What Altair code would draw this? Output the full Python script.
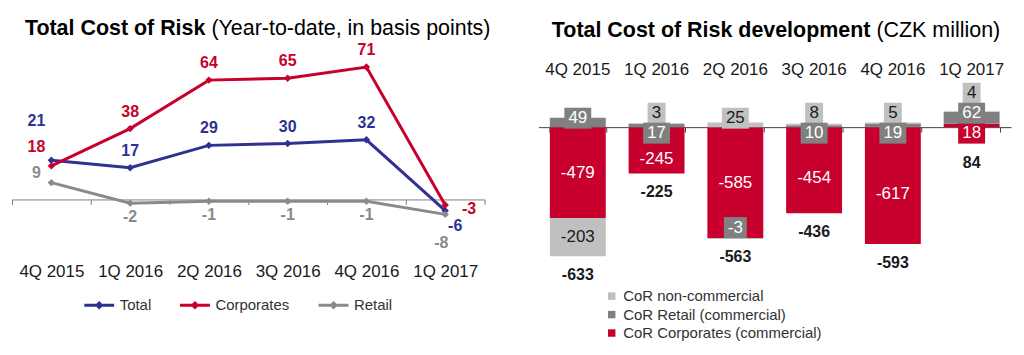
import altair as alt
import pandas as pd

# ---------------- data ----------------
categories = ["4Q 2015", "1Q 2016", "2Q 2016", "3Q 2016", "4Q 2016", "1Q 2017"]

# Left panel: Total Cost of Risk, year-to-date, basis points
series_names = ["Total", "Corporates", "Retail"]
total_bp = [21, 17, 29, 30, 32, -6]
corporates_bp = [18, 38, 64, 65, 71, -3]
retail_bp = [9, -2, -1, -1, -1, -8]

# Right panel: Total Cost of Risk development, CZK million
segment_names = ["CoR Corporates (commercial)", "CoR Retail (commercial)", "CoR non-commercial"]
cor_corporates = [-479, -245, -585, -454, -617, 18]
cor_retail = [49, 17, -3, 10, 19, 62]
cor_noncomm = [-203, 3, 25, 8, 5, 4]
cor_total = [-633, -225, -563, -436, -593, 84]

left_title = ["Total Cost of Risk", "(Year-to-date, in basis points)"]
right_title = ["Total Cost of Risk development", "(CZK million)"]

# ---------------- style / layout ----------------
W, H = 474, 332
GAP = 54
ZL, KL = 186.5, 1.87     # left: zero line (px from top), px per bp
ZR, KR = 114.0, 0.19     # right: zero line (px from top), px per CZK m

BLUE, RED, GRAY = "#2E3192", "#C8002D", "#8A8A8A"
LIGHT, DARK = "#C0C0C0", "#808080"
INK = "#1A1A1A"
AXIS_COL = "#808080"
FONT = "Liberation Sans"
TITLE_SIZE = 21.5


def lv(px):
    return px / KL


def rv(px):
    return px / KR


# ---------------- left panel ----------------
series_vals = {"Total": total_bp, "Corporates": corporates_bp, "Retail": retail_bp}
series_col = {"Total": BLUE, "Corporates": RED, "Retail": GRAY}

left_df = pd.DataFrame([
    {"cat": c, "series": s, "value": v, "col": series_col[s]}
    for s in series_names for c, v in zip(categories, series_vals[s])
])

lab_rows = []
n = len(categories)
for i, c in enumerate(categories):
    vals = [(s, series_vals[s][i]) for s in series_names]
    if i == 0:
        prev = None
        for s, v in sorted(vals, key=lambda t: t[1]):
            y = v + lv(10)
            if prev is not None:
                y = max(y, prev + lv(26))
            prev = y
            lab_rows.append(dict(cat=c, text=str(v), ly=y, dx=-15, col=series_col[s]))
    elif i == n - 1:
        prev = None
        for rank, (s, v) in enumerate(sorted(vals, key=lambda t: -t[1])):
            y = v - lv(4)
            if prev is not None:
                y = min(y, prev - lv(17))
            prev = y
            lab_rows.append(dict(cat=c, text=str(v), ly=y, dx=24 - 14 * rank, col=series_col[s]))
    else:
        for s, v in vals:
            y = v + lv(17) if v >= 0 else v - lv(14)
            lab_rows.append(dict(cat=c, text=str(v), ly=y, dx=0, col=series_col[s]))
lab_df = pd.DataFrame(lab_rows)

yL_scale = alt.Scale(domain=[-(H - ZL) / KL, ZL / KL], nice=False, zero=False)
xL = alt.X(
    "cat:N", sort=categories, title=None,
    scale=alt.Scale(type="band", paddingInner=0, paddingOuter=0),
    axis=alt.Axis(orient="bottom", offset=-(H - ZL), domainColor=AXIS_COL, tickColor=AXIS_COL,
                  tickBand="extent", tickSize=5, labelAngle=0, labelFontSize=17, labelColor=INK,
                  labelBaseline="alphabetic", labelPadding=72, grid=False),
)

left_legend = alt.Legend(
    orient="none", legendX=71, legendY=276, direction="horizontal", title=None,
    symbolType="M-1,0L1,0M0,-0.15L0.15,0L0,0.15L-0.15,0Z", symbolSize=900, symbolStrokeWidth=3,
    labelFontSize=15, labelColor="#333333", labelOffset=4, columnPadding=22, padding=0,
    labelLimit=300,
)

lines = alt.Chart(left_df).mark_line(strokeWidth=3).encode(
    x=xL,
    y=alt.Y("value:Q", scale=yL_scale, axis=None),
    color=alt.Color("series:N", scale=alt.Scale(domain=series_names, range=[BLUE, RED, GRAY]),
                    legend=left_legend),
)
points = alt.Chart(left_df).mark_point(filled=True, shape="diamond", size=55, opacity=1).encode(
    x=xL,
    y=alt.Y("value:Q", scale=yL_scale, axis=None),
    fill=alt.Fill("col:N", scale=None),
)
left_layers = [lines, points]
for d in sorted(lab_df["dx"].unique()):
    left_layers.append(
        alt.Chart(lab_df[lab_df["dx"] == d]).mark_text(
            dx=float(d), fontSize=16, fontWeight="bold", baseline="middle", align="center"
        ).encode(
            x=xL,
            y=alt.Y("ly:Q", scale=yL_scale, axis=None),
            text="text:N",
            fill=alt.Fill("col:N", scale=None),
        )
    )
left_layers.append(
    alt.Chart(pd.DataFrame({"t": [left_title[0]]})).mark_text(
        align="right", baseline="alphabetic", fontSize=TITLE_SIZE, fontWeight="bold", color="#000000"
    ).encode(x=alt.value(194), y=alt.value(22), text="t:N")
)
left_layers.append(
    alt.Chart(pd.DataFrame({"t": [left_title[1]]})).mark_text(
        align="left", baseline="alphabetic", fontSize=TITLE_SIZE, color="#000000"
    ).encode(x=alt.value(200), y=alt.value(22), text="t:N")
)
left = alt.layer(*left_layers).properties(width=W, height=H)

# ---------------- right panel ----------------
seg_vals = [cor_corporates, cor_retail, cor_noncomm]
seg_fill = [RED, DARK, LIGHT]
seg_tcol = ["#FFFFFF", "#FFFFFF", INK]

bar_df = pd.DataFrame([
    {"cat": c, "segment": segment_names[k], "value": seg_vals[k][i], "ord": k}
    for i, c in enumerate(categories) for k in range(3)
])

BOX_H = 21
box_rows, seg_rows, tot_rows = [], [], []
for i, c in enumerate(categories):
    vals = [seg_vals[k][i] for k in range(3)]
    pos = neg = 0.0
    ext = []
    for v in vals:
        if v >= 0:
            ext.append((pos * KR, (pos + v) * KR))
            pos += v
        else:
            ext.append((neg * KR, (neg + v) * KR))
            neg += v
    small_pos = [k for k in range(3) if 0 <= vals[k] < 100]
    centers = {}
    if len(small_pos) == 1:
        centers[small_pos[0]] = 9.0
    else:
        for j, k in enumerate(small_pos):
            centers[k] = -6.0 + 20.0 * j
    for k in range(3):
        if -100 < vals[k] < 0:
            centers[k] = neg * KR + 11.0
    low_pos_box = min([centers[k] - BOX_H / 2 for k in small_pos], default=0.0)
    for k in range(3):
        v = vals[k]
        t = str(v)
        if k in centers:
            cpx = centers[k]
            w = round(sum(5.7 if ch == "-" else 9.5 for ch in t) + 8)
            box_rows.append(dict(cat=c, text=t, yc=rv(cpx), y1=rv(cpx - BOX_H / 2),
                                 y2=rv(cpx + BOX_H / 2), fill=seg_fill[k], tcol=seg_tcol[k], w=w))
        else:
            a, b = ext[k]
            if v < 0:
                top = min(a, low_pos_box)
                mid = (top + b) / 2
            else:
                mid = (a + b) / 2
            seg_rows.append(dict(cat=c, text=t, yc=rv(mid), tcol=seg_tcol[k]))
    bottoms = [neg * KR] + [centers[k] - BOX_H / 2 for k in centers]
    tot_rows.append(dict(cat=c, text=str(cor_total[i]), yc=rv(min(bottoms) - 19)))

box_df = pd.DataFrame(box_rows)
seg_df = pd.DataFrame(seg_rows)
tot_df = pd.DataFrame(tot_rows)
cat_df = pd.DataFrame({"cat": categories, "yc": [rv(52)] * len(categories)})

yR_scale = alt.Scale(domain=[-(H - ZR) / KR, ZR / KR], nice=False, zero=False)
xR = alt.X(
    "cat:N", sort=categories, title=None,
    scale=alt.Scale(type="band", paddingInner=0.29, paddingOuter=0.145),
    axis=alt.Axis(orient="bottom", offset=-(H - ZR), domainColor="#404040", tickColor="#404040",
                  tickBand="extent", tickSize=5, labels=False, grid=False),
)
legend_order = ["CoR non-commercial", "CoR Retail (commercial)", "CoR Corporates (commercial)"]
right_legend = alt.Legend(
    orient="none", legendX=66, legendY=276, direction="vertical", title=None,
    symbolType="square", symbolSize=56, symbolStrokeWidth=0,
    labelFontSize=15, labelColor="#333333", labelOffset=4, rowPadding=2.5, padding=0,
    labelLimit=400,
)

bars = alt.Chart(bar_df).mark_bar().encode(
    x=xR,
    y=alt.Y("value:Q", stack="zero", scale=yR_scale, axis=None),
    color=alt.Color("segment:N", scale=alt.Scale(domain=legend_order, range=[LIGHT, DARK, RED]),
                    legend=right_legend),
    order=alt.Order("ord:Q", sort="ascending"),
)
right_layers = [bars]
for w in sorted(box_df["w"].unique()):
    sub = box_df[box_df["w"] == w]
    right_layers.append(
        alt.Chart(sub).mark_bar(width=float(w)).encode(
            x=xR,
            y=alt.Y("y1:Q", scale=yR_scale, axis=None),
            y2="y2:Q",
            fill=alt.Fill("fill:N", scale=None),
        )
    )
    right_layers.append(
        alt.Chart(sub).mark_text(fontSize=17, baseline="middle", align="center").encode(
            x=xR,
            y=alt.Y("yc:Q", scale=yR_scale, axis=None),
            text="text:N",
            fill=alt.Fill("tcol:N", scale=None),
        )
    )
right_layers.append(
    alt.Chart(seg_df).mark_text(fontSize=17, baseline="middle", align="center").encode(
        x=xR, y=alt.Y("yc:Q", scale=yR_scale, axis=None), text="text:N",
        fill=alt.Fill("tcol:N", scale=None),
    )
)
right_layers.append(
    alt.Chart(tot_df).mark_text(fontSize=16, fontWeight="bold", baseline="middle", align="center",
                                color=INK).encode(
        x=xR, y=alt.Y("yc:Q", scale=yR_scale, axis=None), text="text:N",
    )
)
right_layers.append(
    alt.Chart(cat_df).mark_text(fontSize=17, baseline="alphabetic", align="center", color=INK).encode(
        x=xR, y=alt.Y("yc:Q", scale=yR_scale, axis=None), text="cat:N",
    )
)
right_layers.append(
    alt.Chart(pd.DataFrame({"t": [right_title[0]]})).mark_text(
        align="right", baseline="alphabetic", fontSize=TITLE_SIZE, fontWeight="bold", color="#000000"
    ).encode(x=alt.value(333), y=alt.value(24), text="t:N")
)
right_layers.append(
    alt.Chart(pd.DataFrame({"t": [right_title[1]]})).mark_text(
        align="left", baseline="alphabetic", fontSize=TITLE_SIZE, color="#000000"
    ).encode(x=alt.value(339), y=alt.value(24), text="t:N")
)
right = alt.layer(*right_layers).properties(width=W, height=H)

chart = (
    alt.hconcat(left, right, spacing=GAP, bounds="flush")
    .resolve_scale(color="independent")
    .resolve_legend(color="independent")
    .properties(padding={"left": 3, "top": 5, "right": 5, "bottom": 5})
    .configure(font=FONT)
    .configure_view(stroke=None)
)

chart.save("out.html", embed_options={"renderer": "svg", "actions": False})
